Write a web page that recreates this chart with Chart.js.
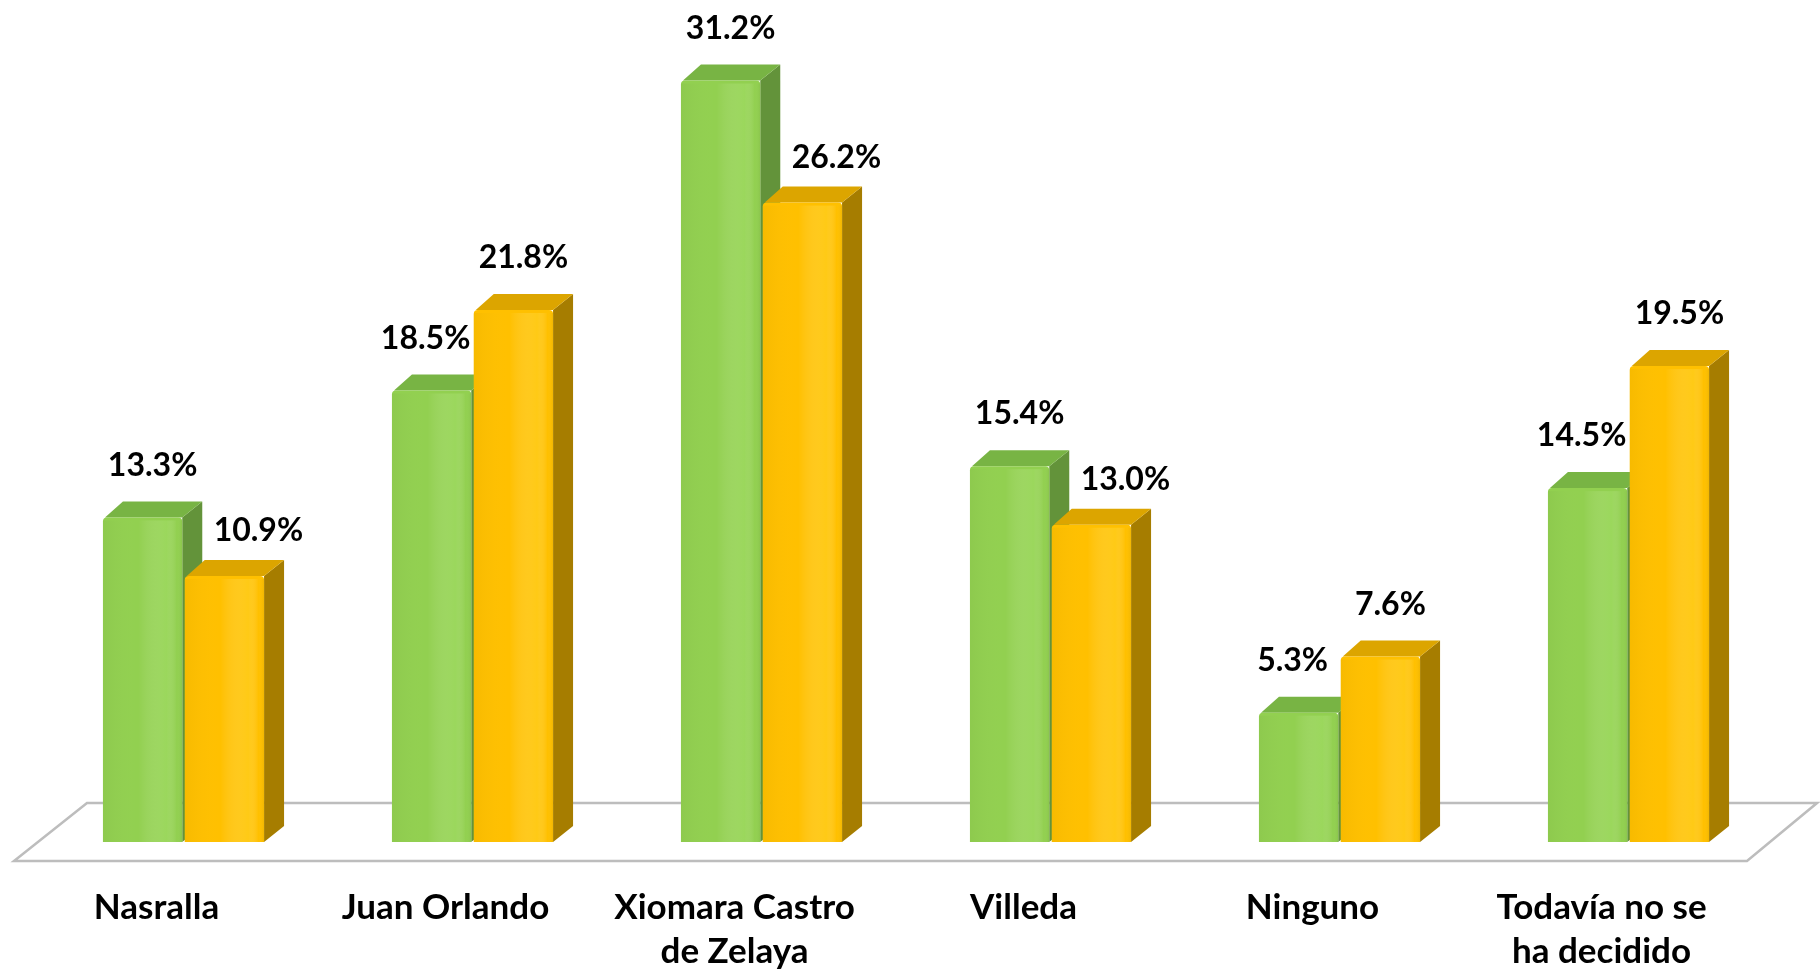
<!DOCTYPE html>
<html lang="es">
<head>
  <meta charset="UTF-8">
  <title>Preferencia de candidatos</title>
  <script src="https://cdn.jsdelivr.net/npm/chart.js@4.4.1/dist/chart.umd.min.js"></script>
  <style>
    body {
      margin: 0;
      padding: 0;
      background-color: #ffffff;
    }
    #wrap {
      width: 1820px;
      height: 969px;
    }
  </style>
</head>
<body>
  <div id="wrap">
    <canvas id="chart" width="1820" height="969"></canvas>
  </div>

  <script>
    // categorias y valores (en %)
    const categorias = [
      'Nasralla',
      'Juan Orlando',
      ['Xiomara Castro', 'de Zelaya'],
      'Villeda',
      'Ninguno',
      ['Todavía no se', 'ha decidido']
    ];
    const serieVerde = [13.3, 18.5, 31.2, 15.4, 5.3, 14.5];
    const serieNaranja = [10.9, 21.8, 26.2, 13.0, 7.6, 19.5];

    // profundidad del efecto 3D
    const DX = 20;
    const DY = 16;

    const colores = [
      { front: '#92d050', top: '#78b444', side: '#63933a', shine: 'rgba(175,232,120,0.3)' },
      { front: '#ffc000', top: '#dca500', side: '#a67d00', shine: 'rgba(255,220,60,0.35)' }
    ];

    function poly(ctx, pts, color) {
      ctx.beginPath();
      ctx.moveTo(pts[0][0], pts[0][1]);
      for (let i = 1; i < pts.length; i++) ctx.lineTo(pts[i][0], pts[i][1]);
      ctx.closePath();
      ctx.fillStyle = color;
      ctx.fill();
    }

    // piso y caras laterales / superiores de las barras
    const barras3d = {
      id: 'barras3d',
      beforeDatasetsDraw(chart) {
        const ctx = chart.ctx;
        const area = chart.chartArea;
        const base = chart.scales.y.getPixelForValue(0);
        ctx.save();
        // piso
        ctx.beginPath();
        ctx.moveTo(area.left - 25, base + 19);
        ctx.lineTo(area.right - 26, base + 19);
        ctx.lineTo(area.right + 44, base - 39);
        ctx.lineTo(area.left + 48, base - 39);
        ctx.closePath();
        ctx.fillStyle = '#ffffff';
        ctx.fill();
        ctx.lineWidth = 2.5;
        ctx.strokeStyle = '#bdbdbd';
        ctx.stroke();

        chart.data.datasets.forEach((ds, di) => {
          const meta = chart.getDatasetMeta(di);
          const c = colores[di];
          meta.data.forEach(el => {
            const x0 = el.x - el.width / 2;
            const x1 = el.x + el.width / 2;
            const y = el.y;
            const b = el.base;
            poly(ctx, [[x1, y], [x1 + DX, y - DY], [x1 + DX, b - DY], [x1, b]], c.side);
            poly(ctx, [[x0 + 2, y], [x0 + DX, y - DY], [x1 + DX, y - DY], [x1, y]], c.top);
          });
        });
        ctx.restore();
      },
      afterDatasetsDraw(chart) {
        const ctx = chart.ctx;
        ctx.save();
        // brillo suave en la cara frontal
        chart.data.datasets.forEach((ds, di) => {
          const meta = chart.getDatasetMeta(di);
          meta.data.forEach(el => {
            const x0 = el.x - el.width / 2;
            const x1 = el.x + el.width / 2;
            const g = ctx.createLinearGradient(x0, 0, x1, 0);
            g.addColorStop(0, 'rgba(0,0,0,0.03)');
            g.addColorStop(0.45, 'rgba(255,255,255,0)');
            g.addColorStop(0.8, colores[di].shine);
            g.addColorStop(0.93, 'rgba(255,255,255,0)');
            g.addColorStop(1, 'rgba(0,0,0,0.05)');
            ctx.fillStyle = g;
            ctx.fillRect(x0, el.y + 3, el.width, el.base - el.y - 3);
          });
        });

        // etiquetas de valor
        ctx.font = 'bold 32px Lato, "Open Sans", sans-serif';
        ctx.fillStyle = '#000000';
        ctx.textAlign = 'center';
        ctx.textBaseline = 'middle';
        const n = chart.data.labels.length;
        for (let i = 0; i < n; i++) {
          const v0 = chart.data.datasets[0].data[i];
          const v1 = chart.data.datasets[1].data[i];
          chart.data.datasets.forEach((ds, di) => {
            const el = chart.getDatasetMeta(di).data[i];
            let off = DX / 2;
            let up = 52;
            if (di === 0 && v1 > v0) off = -6;
            if (di === 1 && v0 > v1) { off = 34; up = 45; }
            ctx.fillText(ds.data[i].toFixed(1) + '%', el.x + off, el.y - up);
          });
        }
        ctx.restore();
      }
    };

    new Chart(document.getElementById('chart'), {
      type: 'bar',
      data: {
        labels: categorias,
        datasets: [
          {
            label: 'Serie 1',
            data: serieVerde,
            backgroundColor: colores[0].front,
            borderRadius: 4,
            borderSkipped: 'bottom'
          },
          {
            label: 'Serie 2',
            data: serieNaranja,
            backgroundColor: colores[1].front,
            borderRadius: 4,
            borderSkipped: 'bottom'
          }
        ]
      },
      options: {
        responsive: false,
        animation: false,
        devicePixelRatio: 1,
        layout: {
          padding: { left: 39, right: 47, top: 0, bottom: 0 }
        },
        datasets: {
          bar: {
            categoryPercentage: 0.566,
            barPercentage: 0.97
          }
        },
        plugins: {
          legend: { display: false },
          tooltip: { enabled: false }
        },
        scales: {
          x: {
            grid: { display: false },
            border: { display: false },
            afterFit(scale) {
              scale.height = 127;
            },
            ticks: {
              color: '#000000',
              autoSkip: false,
              maxRotation: 0,
              padding: 35,
              labelOffset: -27,
              font: { family: 'Lato, "Open Sans", sans-serif', size: 35, weight: 'bold', lineHeight: 1.27 }
            }
          },
          y: {
            display: false,
            min: 0,
            max: 34.5
          }
        }
      },
      plugins: [barras3d]
    });
  </script>
</body>
</html>
